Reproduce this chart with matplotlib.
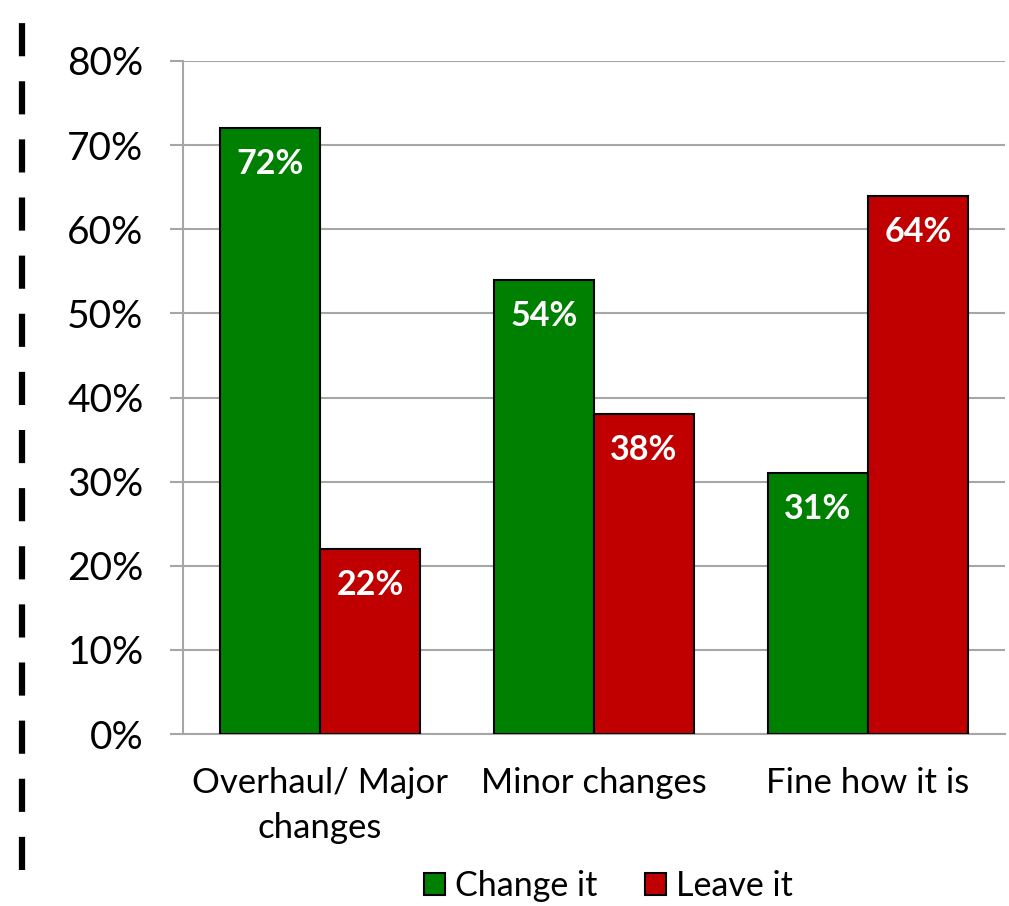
import numpy as np
import matplotlib.pyplot as plt
from matplotlib.lines import Line2D

categories = ['Overhaul/ Major\nchanges', 'Minor changes', 'Fine how it is']
change_it = [72, 54, 31]
leave_it = [22, 38, 64]
yticks = [0, 10, 20, 30, 40, 50, 60, 70, 80]

plt.rcParams['font.family'] = ['Lato', 'DejaVu Sans']

fig = plt.figure(figsize=(10.09, 9.06), dpi=100)
ax = fig.add_axes([0.1814, 0.1898, 0.8146, 0.7429])

x = np.arange(len(categories))
w = 0.365
b1 = ax.bar(x - w / 2, change_it, w, color='#008000', edgecolor='black', linewidth=1.5, label='Change it', zorder=3)
b2 = ax.bar(x + w / 2, leave_it, w, color='#C00000', edgecolor='black', linewidth=1.5, label='Leave it', zorder=3)

for bars in (b1, b2):
    for r in bars:
        h = r.get_height()
        ax.annotate(f'{h:.0f}%', (r.get_x() + r.get_width() / 2, h), xytext=(0, -36),
                    textcoords='offset pixels', ha='center', va='center',
                    color='white', fontsize=24.5, fontweight='bold', zorder=4)

ax.set_xlim(-0.5, 2.5)
ax.set_ylim(0, 80)
ax.set_yticks(yticks)
ax.set_yticklabels([f'{t}%' for t in yticks], fontsize=28)
ax.set_xticks(x)
ax.set_xticklabels(categories, fontsize=25, linespacing=1.5)
ax.yaxis.grid(True, color='#A6A6A6', linewidth=1.5, zorder=0)
ax.tick_params(axis='y', length=9.4, width=1.5, color='#A6A6A6', pad=19)
ax.tick_params(axis='x', length=0, pad=24)
for s in ['top', 'right']:
    ax.spines[s].set_visible(False)
for s in ['left', 'bottom']:
    ax.spines[s].set_color('#A6A6A6')
    ax.spines[s].set_linewidth(1.5)

fig.legend(handles=[b1, b2], loc='center', bbox_to_anchor=(0.603, 0.022), ncol=2,
           frameon=False, fontsize=24.5, handlelength=0.62, handleheight=0.62,
           handletextpad=0.3, columnspacing=1.4)

fig.add_artist(Line2D([0.0218, 0.0218], [0.04, 0.99], transform=fig.transFigure,
                      color='black', linewidth=4.5, linestyle=(0, (5.3, 4.0))))

fig.savefig('out.png', dpi=100)
